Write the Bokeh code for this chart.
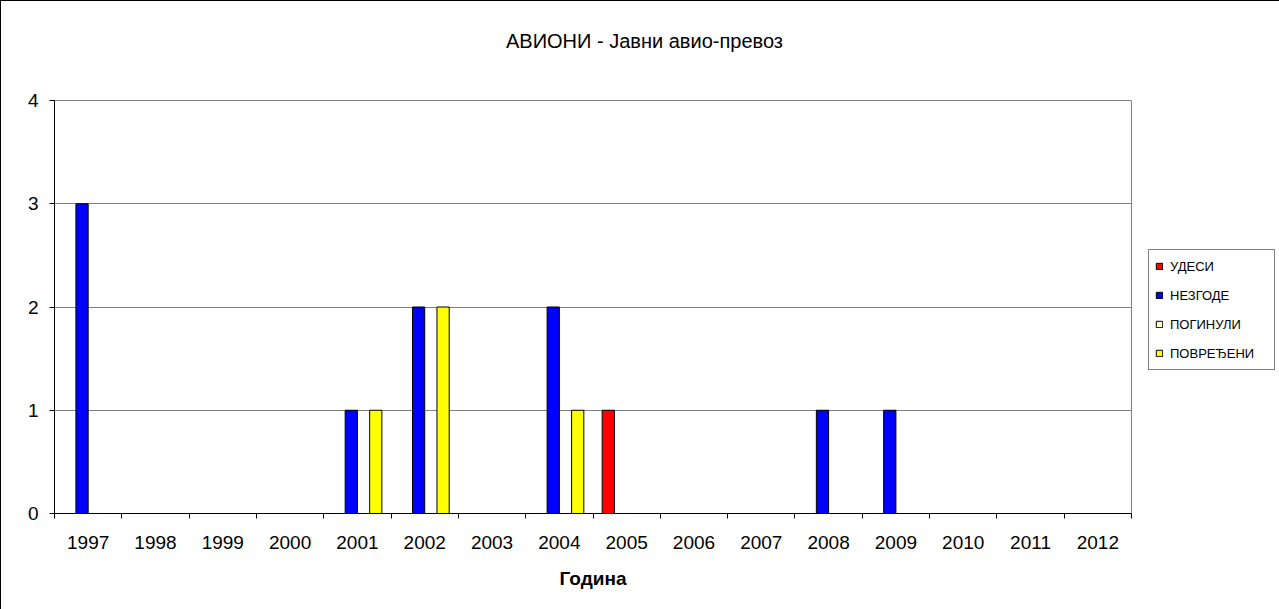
from bokeh.plotting import figure
from bokeh.layouts import column, row
from bokeh.models import (FactorRange, Range1d, LinearAxis, CategoricalAxis, FixedTicker,
                          ColumnDataSource, Legend, LegendItem, Grid, Div)
from bokeh.transform import dodge
from bokeh.embed import file_html
from bokeh.resources import INLINE

# ---- data ----
years = ["1997", "1998", "1999", "2000", "2001", "2002", "2003", "2004",
         "2005", "2006", "2007", "2008", "2009", "2010", "2011", "2012"]
udesi      = [0, 0, 0, 0, 0, 0, 0, 0, 1, 0, 0, 0, 0, 0, 0, 0]
nezgode    = [3, 0, 0, 0, 1, 2, 0, 2, 0, 0, 0, 1, 1, 0, 0, 0]
poginuli   = [0, 0, 0, 0, 0, 0, 0, 0, 0, 0, 0, 0, 0, 0, 0, 0]
povredjeni = [0, 0, 0, 0, 1, 2, 0, 1, 0, 0, 0, 0, 0, 0, 0, 0]
series_keys = ["udesi", "nezgode", "poginuli", "povredjeni"]
series_names = ["УДЕСИ", "НЕЗГОДЕ", "ПОГИНУЛИ", "ПОВРЕЂЕНИ"]
series_colors = ["#FF0000", "#0000FF", "#FFFFCC", "#FFFF00"]
y_ticks = [0, 1, 2, 3, 4]
title_text = "АВИОНИ - Јавни авио-превоз"
x_title = "Година"

FONT = "Liberation Sans"

src = ColumnDataSource(dict(year=years, udesi=udesi, nezgode=nezgode,
                            poginuli=poginuli, povredjeni=povredjeni))

title_div = Div(
    text=('<div style="padding-left:500px;padding-top:24px;font-family:\'Liberation Sans\';'
          'font-size:20px;line-height:23px;color:black;white-space:nowrap">'
          + title_text + '</div>'),
    width=1278, height=76)

x_range = FactorRange(factors=years, range_padding=0, factor_padding=0)
y_range = Range1d(0, 4)

p = figure(x_range=x_range, y_range=y_range,
           width=1146, height=522, output_backend="svg", toolbar_location=None,
           x_axis_location=None, y_axis_location=None,
           min_border_left=53, min_border_right=16, min_border_top=13, min_border_bottom=96)
for g in p.grid:
    g.visible = False
p.outline_line_color = "#808080"
p.outline_line_width = 1
p.background_fill_color = "white"
p.border_fill_color = "white"

p.add_layout(Grid(dimension=1, ticker=FixedTicker(ticks=y_ticks[1:]),
                  grid_line_color="#808080", grid_line_width=1))

# y axis
yaxis = LinearAxis(ticker=FixedTicker(ticks=y_ticks), major_tick_in=0, major_tick_out=5,
                   minor_tick_line_color=None, axis_line_color="black",
                   major_tick_line_color="black",
                   major_label_text_font=FONT, major_label_text_font_size="19px",
                   major_label_text_color="black", major_label_standoff=11)
p.add_layout(yaxis, "left")

# x axis: boundary ticks (synthetic coordinates of the factor range) + category labels
tick_axis = LinearAxis(ticker=FixedTicker(ticks=list(range(len(years) + 1))),
                       major_tick_in=0, major_tick_out=5, minor_tick_line_color=None,
                       axis_line_color="black", major_tick_line_color="black",
                       major_label_text_font_size="0px", major_label_text_color=None,
                       major_label_standoff=0)
p.add_layout(tick_axis, "below")
cat_axis = CategoricalAxis(axis_line_color=None, major_tick_line_color=None,
                           major_tick_in=0, major_tick_out=0,
                           major_label_text_font=FONT, major_label_text_font_size="19px",
                           major_label_text_color="black", major_label_standoff=17,
                           axis_label=x_title, axis_label_text_font=FONT,
                           axis_label_text_font_size="19px", axis_label_text_font_style="bold",
                           axis_label_text_color="black", axis_label_standoff=16)
p.add_layout(cat_axis, "below")

# bars
w = 1 / 5.5
offsets = [-1.5 * w, -0.5 * w, 0.5 * w, 1.5 * w]

# legend panel (separate small figure to the right of the plot area)
pl = figure(x_range=x_range, y_range=y_range, width=132, height=522,
            output_backend="svg", toolbar_location=None,
            x_axis_location=None, y_axis_location=None,
            min_border_left=0, min_border_right=0, min_border_top=0, min_border_bottom=0)
for g in pl.grid:
    g.visible = False
pl.outline_line_color = None
pl.background_fill_color = "white"
pl.border_fill_color = "white"

items = []
for key, name, col, off in zip(series_keys, series_names, series_colors, offsets):
    p.vbar(x=dodge("year", off, range=x_range), top=key, bottom=0, width=w,
           source=src, fill_color=col, line_color="black", line_width=1)
    rl = pl.vbar(x=dodge("year", off, range=x_range), top=key, bottom=0, width=w,
                 source=src, fill_color=col, line_color="black", line_width=1, visible=False)
    items.append(LegendItem(label=name, renderers=[rl]))

legend = Legend(items=items, location=(1, 143), orientation="vertical",
                border_line_color="black", border_line_width=1,
                background_fill_color="white", background_fill_alpha=1,
                padding=6, spacing=9, margin=0, label_height=20,
                glyph_height=8, glyph_width=8, label_standoff=7, label_width=98,
                label_text_font=FONT, label_text_font_size="13px",
                label_text_color="black", click_policy="none")
pl.add_layout(legend)

layout = column(title_div, row(p, pl, spacing=0), spacing=0,
                styles={"border-left": "1px solid black", "border-top": "1px solid black"})

open("out.html", "w").write(file_html(layout, INLINE))
